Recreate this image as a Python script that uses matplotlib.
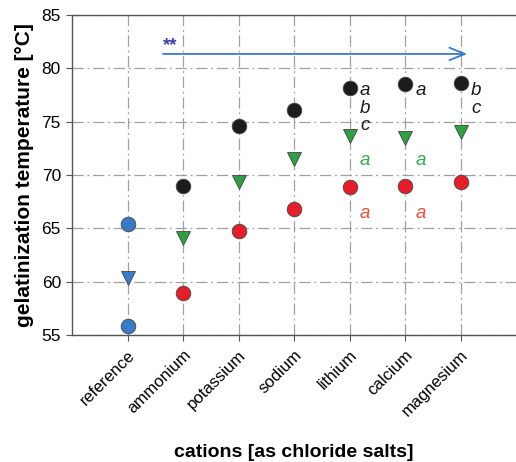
import matplotlib
matplotlib.use("Agg")
import matplotlib.pyplot as plt

plt.rcParams['font.family'] = ['Liberation Sans', 'DejaVu Sans']

cations = ["reference", "ammonium", "potassium", "sodium", "lithium", "calcium", "magnesium"]

# onset / peak / conclusion temperatures for the salt series
onset = [None, 58.9, 64.75, 66.8, 68.9, 69.0, 69.3]
peak = [None, 64.1, 69.3, 71.5, 73.65, 73.5, 74.0]
conclusion = [None, 68.95, 74.6, 76.1, 78.2, 78.5, 78.6]

# reference sample (no salt)
ref_onset = 55.8
ref_peak = 60.3
ref_conclusion = 65.4

# significance letters per cation
letters_conc = {"lithium": ["a", "b", "c"], "calcium": ["a"], "magnesium": ["b", "c"]}
letters_peak = {"lithium": "a", "calcium": "a"}
letters_onset = {"lithium": "a", "calcium": "a"}

arrow_y = 81.35
arrow_x = (1.64, 7.12)

black = "#1c1c1c"
green = "#2f9e45"
red = "#e41e2b"
blue = "#3a7bc8"

fig = plt.figure(figsize=(5.16, 4.62), dpi=100)
ax = fig.add_axes([72 / 516, 1 - 335 / 462, 444 / 516, 320 / 462])

xs = list(range(1, len(cations) + 1))
ms = 10.5
edge = dict(mec="#444444", mew=0.6, ms=ms, zorder=4)
for x, v in zip(xs[1:], conclusion[1:]):
    ax.plot(x, v, 'o', color=black, **edge)
for x, v in zip(xs[1:], peak[1:]):
    ax.plot(x, v, 'v', color=green, **edge)
for x, v in zip(xs[1:], onset[1:]):
    ax.plot(x, v, 'o', color=red, **edge)

ax.plot(1, ref_conclusion, 'o', color=blue, **edge)
ax.plot(1, ref_peak, 'v', color=blue, **edge)
ax.plot(1, ref_onset, 'o', color=blue, **edge)

# letter rows
dx = 0.28
row_conc = [77.95, 76.25, 74.6]
for name, lets in letters_conc.items():
    i = cations.index(name)
    for k, t in enumerate(lets):
        ax.text(xs[i] + dx, row_conc[k], t, color=black, fontsize=13.5, style='italic',
                ha='center', va='center')
for name, t in letters_peak.items():
    i = cations.index(name)
    ax.text(xs[i] + dx, 71.4, t, color="#3aa55a", fontsize=13.5,
            style='italic', ha='center', va='center')
for name, t in letters_onset.items():
    i = cations.index(name)
    ax.text(xs[i] + dx, 66.35, t, color="#e0503a", fontsize=13.5,
            style='italic', ha='center', va='center')

ax.annotate("", xy=(arrow_x[1], arrow_y), xytext=(arrow_x[0], arrow_y),
            arrowprops=dict(arrowstyle="->,head_length=1.1,head_width=0.45",
                            color=blue, lw=1.3, shrinkA=0, shrinkB=0), zorder=3)
ax.text(arrow_x[0], arrow_y - 0.05, "**", color="#3b3fa8", fontsize=13.5,
        fontweight='bold', ha='left', va='bottom')

ax.set_xlim(0, 8)
ax.set_ylim(55, 85)
ax.set_yticks([55, 60, 65, 70, 75, 80, 85])
ax.set_xticks(xs)
ax.set_xticklabels(cations, rotation=45, ha='right', rotation_mode='anchor', fontsize=12)
ax.tick_params(axis='y', labelsize=12.5, direction='out', length=4, color='#555555', pad=4)
ax.tick_params(axis='x', direction='out', length=4, color='#555555', pad=5)

ax.grid(True, color='#a0a0a0', linestyle='-.', linewidth=0.9, dashes=(9, 3, 1.5, 3))
ax.set_axisbelow(True)
ax.spines['right'].set_visible(False)
for s in ['left', 'bottom', 'top']:
    ax.spines[s].set_color('#555555')
    ax.spines[s].set_linewidth(1.0)

ax.set_ylabel("gelatinization temperature [°C]", fontsize=15, fontweight='bold', labelpad=5)
ax.set_xlabel("cations [as chloride salts]", fontsize=14, fontweight='bold', labelpad=18)

fig.savefig("out.png", dpi=100)
